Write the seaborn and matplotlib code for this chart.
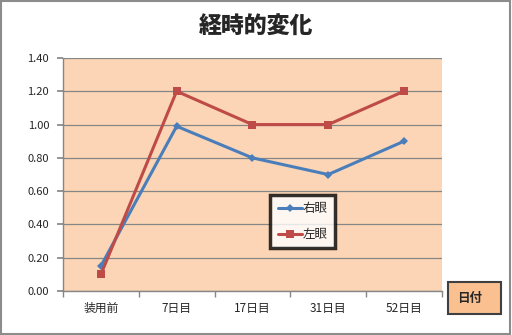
import matplotlib
matplotlib.use("Agg")
import matplotlib.pyplot as plt
import seaborn as sns
import pandas as pd
from matplotlib.patches import Rectangle
from matplotlib.lines import Line2D

categories = ["装用前", "7日目", "17日目", "31日目", "52日目"]
right_eye = [0.15, 0.99, 0.80, 0.70, 0.90]
left_eye = [0.10, 1.20, 1.00, 1.00, 1.20]
series_names = ["右眼", "左眼"]
yticks = [0.0, 0.2, 0.4, 0.6, 0.8, 1.0, 1.2, 1.4]

sns.set_theme(style="white")
plt.rcParams['font.family'] = ['Noto Sans CJK JP', 'DejaVu Sans']

df = pd.DataFrame({
    "日": categories * 2,
    "値": right_eye + left_eye,
    "系列": [series_names[0]] * 5 + [series_names[1]] * 5,
})

fig = plt.figure(figsize=(5.12, 3.35), dpi=100)
fig.patch.set_facecolor("white")
fig.add_artist(Rectangle((0.002, 0.003), 0.995, 0.994, transform=fig.transFigure,
                         fill=False, edgecolor="#8c8c8c", linewidth=1.5))
ax = fig.add_axes([0.123, 0.131, 0.740, 0.696])
ax.set_facecolor("#FBD5B5")

blue = "#4A7EBB"
red = "#BE4B48"
sns.lineplot(data=df, x="日", y="値", hue="系列", style="系列",
             palette={series_names[0]: blue, series_names[1]: red},
             markers={series_names[0]: "D", series_names[1]: "s"},
             dashes=False, linewidth=2.2, markersize=6, markeredgewidth=0,
             ax=ax, legend=False, sort=False)
for line in ax.get_lines():
    if line.get_marker() == "D":
        line.set_markersize(4.5)

ax.set_ylim(0, 1.4)
ax.set_xlim(-0.5, 4.5)
ax.set_yticks(yticks)
ax.set_yticklabels([f"{v:.2f}" for v in yticks], fontsize=8)
ax.yaxis.grid(True, color="#868686", linewidth=0.9)
ax.set_axisbelow(True)
ax.set_xticks(range(len(categories)))
ax.set_xticklabels(categories, fontsize=8.5)
ax.set_xticks([i - 0.5 for i in range(len(categories) + 1)], minor=True)
ax.tick_params(axis="x", which="major", length=0, pad=8)
ax.tick_params(axis="x", which="minor", length=4, color="#868686", direction="out", bottom=True)
ax.tick_params(axis="y", length=4, color="#868686", direction="out", left=True, pad=6)
ax.set_xlabel("")
ax.set_ylabel("")
for s in ["top", "right"]:
    ax.spines[s].set_visible(False)
for s in ["left", "bottom"]:
    ax.spines[s].set_color("#868686")
    ax.spines[s].set_linewidth(1.0)

fig.text(0.5, 0.918, "経時的変化", ha="center", va="center", fontsize=16.5, fontweight="heavy")

handles = [Line2D([], [], color=blue, marker="D", markersize=4.5, linewidth=2.2, markeredgewidth=0),
           Line2D([], [], color=red, marker="s", markersize=6, linewidth=2.2, markeredgewidth=0)]
leg = ax.legend(handles, series_names, loc="upper left", bbox_to_anchor=(0.528, 0.418),
                bbox_transform=fig.transFigure,
                frameon=True, fontsize=9, handlelength=1.9, handletextpad=0.1,
                borderpad=0.6, labelspacing=1.0, fancybox=False, borderaxespad=0)
leg.get_frame().set_edgecolor("black")
leg.get_frame().set_linewidth(2.5)
leg.get_frame().set_facecolor("white")

fig.add_artist(Rectangle((0.875, 0.0627), 0.1035, 0.0955, transform=fig.transFigure,
                         facecolor="#FAC090", edgecolor="#404040", linewidth=1.5))
fig.text(0.918, 0.110, "日付", ha="center", va="center", fontsize=9, fontweight="bold")

fig.savefig("out.png", dpi=100)
